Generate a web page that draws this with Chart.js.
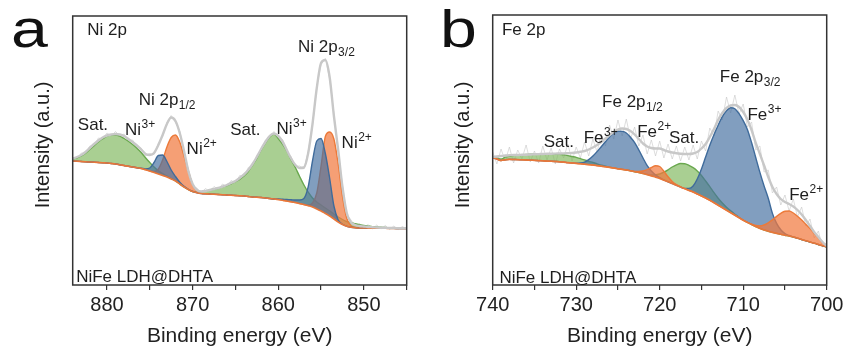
<!DOCTYPE html>
<html>
<head>
<meta charset="utf-8">
<script src="https://cdn.jsdelivr.net/npm/chart.js@4.4.1/dist/chart.umd.min.js"></script>
<style>
  html, body { margin: 0; padding: 0; background: #fff; }
  #wrap { position: relative; width: 847px; height: 351px; overflow: hidden; }
  canvas { position: absolute; top: 0; }
  #ni { left: 0; }
  #fe { left: 420px; }
</style>
</head>
<body>
<div id="wrap">
  <canvas id="ni" width="420" height="351"></canvas>
  <canvas id="fe" width="427" height="351"></canvas>
</div>
<script>
// ---------- Ni 2p region ----------
const niEnergy = [884, 883.5, 883, 882.5, 882, 881.5, 881, 880.5, 880, 879.5, 879, 878.5, 878, 877.5, 877, 876.5, 876, 875.5, 875, 874.5,
  874, 873.5, 873, 872.5, 872, 871.5, 871, 870.5, 870, 869.5, 869, 868.5, 868, 867.5, 867, 866.5, 866, 865.5, 865, 864.5,
  864, 863.5, 863, 862.5, 862, 861.5, 861, 860.5, 860, 859.5, 859, 858.5, 858, 857.5, 857, 856.5, 856, 855.5, 855, 854.5,
  854, 853.5, 853, 852.5, 852, 851.5, 851, 850.5, 850, 849.5, 849, 848.5, 848, 847.5, 847, 846.5, 846, 845.5, 845];
// Shirley background
const niBackground = [124, 123.8, 123.5, 123.2, 123, 122.8, 122.5, 122.2, 122, 121.5, 121, 120.3, 119.5, 118.8, 118, 117.2, 116.5, 115.3, 114, 112.5,
  111, 109.5, 108, 106, 104, 101, 98, 95.5, 93.5, 92.3, 91.5, 91.2, 91, 90.7, 90.5, 90.2, 90, 89.7, 89.5, 89.2,
  89, 88.5, 88, 87.7, 87.5, 87, 86.5, 86, 85.5, 84.8, 84, 83.3, 82.5, 81.5, 80.5, 79.3, 78, 76, 74, 71.5,
  69, 66, 63, 60.5, 58.7, 57.7, 57.2, 57, 57, 56.9, 56.8, 56.8, 56.7, 56.7, 56.6, 56.6, 56.5, 56.5, 56.5];
// fitted envelope
const niEnvelope = [126.5, 128, 130, 133, 137, 141, 144.5, 147.5, 149.5, 150.5, 151, 150.5, 149, 146, 143, 139.5, 135.5, 131, 130, 132,
  140, 150, 161, 167.5, 164, 152, 134, 114, 101, 95, 93.5, 94, 95, 96, 97, 98.5, 100, 102, 104, 107,
  110.5, 115, 121, 128, 136, 143, 149, 151.5, 149, 143.5, 135, 126.5, 120, 117, 117.5, 132, 161, 197, 222, 225,
  208, 169, 135, 98, 72, 62.5, 60, 59, 58.5, 58, 57.8, 57.5, 57.3, 57.2, 57, 57, 56.8, 56.7, 56.7];
// measured counts
const niRaw = [127.5, 126, 132, 131.5, 139, 140, 147, 146, 152, 149, 153.5, 149, 151, 144.5, 145, 138, 137, 129.5, 131.5, 130.5,
  141.5, 148.5, 162.5, 169.5, 162.5, 154, 132, 116, 99.5, 97, 92, 96.5, 93.5, 98.5, 95.5, 101, 98.5, 104.5, 102, 109.5,
  108.5, 117.5, 119, 130, 134.5, 145, 147.5, 153.5, 147.5, 145.5, 133, 128.5, 118.5, 119, 116, 133.5, 159, 198.5, 220.5, 226.5,
  206, 171, 133, 100, 70.5, 65, 58.5, 61.5, 57, 60.5, 56, 60, 56, 59.5, 55.5, 59, 55.5, 58.5, 56];
// component heights above the background
const niSat = [2, 3.5, 5.5, 8.5, 12.5, 16.5, 20.5, 24, 27, 28.5, 29, 28.5, 27, 25, 22.5, 19.5, 16, 12, 8.5, 5.5,
  3.2, 1.8, 1, 0.5, 0.2, 0, 0, 0, 0, 1, 1.8, 2.8, 4, 5.3, 6.3, 8, 9.5, 11.5, 14, 16.5,
  20, 25, 32, 39, 47.5, 55, 61.5, 65, 61, 56, 50, 42, 35, 27, 19.5, 13.5, 9, 7, 6, 5.5,
  5.2, 5, 5, 5, 4.8, 4.5, 4, 3.3, 2.5, 2, 1.5, 1.2, 1, 0.8, 0.6, 0.5, 0.4, 0.3, 0.3];
const niNi3 = [0, 0, 0, 0, 0, 0, 0, 0, 0, 0, 0, 0, 0, 0, 0, 0, 0.2, 0.8, 3, 10,
  18.5, 20.5, 15.5, 9, 4.5, 1.8, 0.6, 0.2, 0, 0, 0, 0, 0, 0, 0, 0, 0, 0, 0, 0,
  0, 0, 0, 0, 0, 0, 0, 0, 0.5, 1, 1.5, 2, 2.5, 3.5, 6, 19, 46, 68, 72.5, 60,
  38, 13, 2, 0.3, 0, 0, 0, 0, 0, 0, 0, 0, 0, 0, 0, 0, 0, 0, 0];
const niNi2 = [0, 0, 0, 0, 0, 0, 0, 0, 0, 0, 0, 0, 0, 0, 0, 0, 0, 0, 0, 1,
  5, 15.5, 30, 41.5, 46, 42, 31, 18.5, 7, 2, 0.5, 0, 0, 0, 0, 0, 0, 0, 0, 0,
  0, 0, 0, 0, 0, 0, 0, 0, 0, 0, 0, 0, 0, 0, 0, 0.5, 4, 16, 45, 77,
  84, 80, 58, 28, 8, 1.5, 0.3, 0, 0, 0, 0, 0, 0, 0, 0, 0, 0, 0, 0];
const niTicks = [880, 870, 860, 850];

// ---------- Fe 2p region ----------
const feEnergy = [740, 739.5, 739, 738.5, 738, 737.5, 737, 736.5, 736, 735.5, 735, 734.5, 734, 733.5, 733, 732.5, 732, 731.5, 731, 730.5,
  730, 729.5, 729, 728.5, 728, 727.5, 727, 726.5, 726, 725.5, 725, 724.5, 724, 723.5, 723, 722.5, 722, 721.5, 721, 720.5,
  720, 719.5, 719, 718.5, 718, 717.5, 717, 716.5, 716, 715.5, 715, 714.5, 714, 713.5, 713, 712.5, 712, 711.5, 711, 710.5,
  710, 709.5, 709, 708.5, 708, 707.5, 707, 706.5, 706, 705.5, 705, 704.5, 704, 703.5, 703, 702.5, 702, 701.5, 701, 700.5, 700];
const feBackground = [127, 126, 124.5, 125.3, 125.6, 125.5, 125.4, 125.2, 125, 124.8, 124.6, 124.4, 124.2, 123.9, 123.7, 123.5, 123.3, 122.9, 122.4, 122,
  121.6, 121.2, 120.8, 120.4, 120, 119.4, 118.8, 118.2, 117.6, 117, 116.3, 115.6, 115, 114.2, 113.3, 112.5, 111.5, 110.3, 109, 107.8,
  106.5, 104.8, 103.2, 101.5, 99.7, 98, 96.3, 94.6, 93, 91, 89, 87, 84.8, 82.3, 79.8, 77.3, 74.8, 72.3, 69.8, 67.3,
  64.8, 62.6, 60.5, 58.5, 56.6, 55, 53.7, 52.6, 51.6, 50.7, 49.8, 49, 48, 46.8, 45.5, 44.2, 43, 41.8, 40.5, 39.2, 38];
const feEnvelope = [128, 128.5, 129, 129.5, 129.8, 130, 130, 130.2, 130.3, 130.5, 130.7, 130.9, 131, 131.2, 131.3, 131.4, 131.5, 131.6, 131.8, 132,
  132.5, 133.2, 134, 135.5, 137.5, 140, 143, 146.5, 150, 153, 155.5, 156.5, 156, 154, 150.5, 146, 141.5, 138.5, 137, 136.5,
  136.5, 135, 133.5, 132.5, 131.8, 131.3, 131, 131, 131.5, 133, 136.5, 141, 148, 156, 165, 172, 177, 179.5, 180, 178,
  173, 165.5, 155, 142, 131, 119.5, 108, 98, 91, 86, 83, 81, 78.5, 75, 70.5, 65, 59, 53, 48, 43, 39];
const feRaw = [133, 121, 136, 124, 138, 122, 135, 126, 140, 123, 134, 122, 139, 125, 137, 121, 136, 127, 141, 124,
  138, 127, 143, 129, 146, 133, 151, 139, 160, 146, 165, 149, 166, 146, 158, 139, 150, 131, 145, 129,
  144, 127, 141, 126, 139, 124, 138, 125, 140, 126, 144, 134, 157, 149, 174, 165, 188, 172, 190, 171,
  181, 158, 163, 135, 139, 113, 115, 92, 98, 80, 90, 74, 86, 68, 78, 59, 66, 47, 54, 38, 42];
const feSat = [0.5, 1, 1.5, 2.5, 3.2, 4, 4.5, 5, 5.5, 6, 6.3, 6.7, 7, 7.2, 7.3, 7.3, 7.3, 7.2, 7, 6.5,
  6, 5.2, 4.3, 3.3, 2.5, 1.7, 1, 0.6, 0.3, 0.1, 0, 0, 0, 0, 0, 0, 0, 0.3, 1, 2.5,
  4.5, 8, 12, 16.5, 20.5, 23.5, 25, 25, 24.3, 23, 20.5, 17, 13.5, 10, 7, 4.7, 3, 1.8, 1, 0.5,
  0.2, 0, 0, 0, 0, 0, 0, 0, 0, 0, 0, 0, 0, 0, 0, 0, 0, 0, 0, 0, 0];
const feFe3 = [0, 0, 0, 0, 0, 0, 0, 0, 0, 0, 0, 0, 0, 0, 0, 0, 0, 0, 0, 0,
  0.2, 0.8, 2, 5, 9, 14, 19.5, 25, 30.5, 35, 37.5, 38, 37, 33.5, 29, 22.5, 15.5, 9, 5, 2.3,
  1, 0.3, 0, 0, 0, 0, 0.3, 2, 6, 15, 27, 41, 55, 68, 80, 91, 99.5, 105, 106.5, 104,
  99.5, 93, 82, 69, 56, 44, 33, 19, 10, 4.5, 1.5, 0.5, 0.1, 0, 0, 0, 0, 0, 0, 0, 0];
const feFe2 = [0, 0, 0, 0, 0, 0, 0, 0, 0, 0, 0, 0, 0, 0, 0, 0, 0, 0, 0, 0,
  0, 0, 0, 0, 0, 0, 0, 0, 0, 0, 0, 0, 0, 0, 0.3, 1, 2.5, 5, 8.5, 11.5,
  12, 9, 5, 2, 0.7, 0.2, 0, 0, 0, 0, 0, 0, 0, 0, 0, 0, 0, 0, 0, 0,
  0, 0, 0.3, 1, 2.5, 5, 8.5, 12.5, 17, 21, 24, 25, 24, 22, 19.5, 16.5, 13.5, 10, 6.5, 3.5, 1.5];
const feTicks = [740, 730, 720, 710, 700];

// ---------- drawing ----------
const FONT = '"Liberation Sans", Arial, Helvetica, sans-serif';
Chart.defaults.font.family = FONT;
Chart.defaults.color = '#222';

function pts(xs, ys) { return xs.map((x, k) => ({ x, y: ys[k] })); }
function onBackground(xs, bg, h) { return xs.map((x, k) => ({ x, y: bg[k] + h[k] })); }

// frame, peak annotations, axis caption and panel letter
const xpsDecor = {
  id: 'xpsDecor',
  afterDraw(chart, args, o) {
    const { ctx, chartArea: a, scales: { x, y } } = chart;
    ctx.save();
    ctx.strokeStyle = '#333';
    ctx.lineWidth = 1.5;
    ctx.strokeRect(a.left, a.top, a.right - a.left, a.bottom - a.top);

    ctx.fillStyle = '#1e1e1e';
    ctx.textAlign = 'left';
    ctx.textBaseline = 'alphabetic';
    for (const lab of o.labels) {
      const px = x.getPixelForValue(lab.e);
      const py = y.getPixelForValue(lab.i);
      ctx.font = '17px ' + FONT;
      ctx.fillText(lab.text, px, py);
      const w = ctx.measureText(lab.text).width;
      ctx.font = '12px ' + FONT;
      if (lab.sub) ctx.fillText(lab.sub, px + w + 0.5, py + 3.5);
      if (lab.sup) ctx.fillText(lab.sup, px + w + 0.5, py - 7);
    }

    ctx.save();
    ctx.translate(43.5, 145);
    ctx.rotate(-Math.PI / 2);
    ctx.font = '20px ' + FONT;
    ctx.textAlign = 'center';
    ctx.textBaseline = 'middle';
    ctx.fillText(o.yTitle, 0, 0);
    ctx.restore();

    ctx.save();
    ctx.translate(o.letterX, 47);
    ctx.scale(1.3, 1);
    ctx.font = '51px ' + FONT;
    ctx.fillStyle = '#111';
    ctx.fillText(o.letter, 0, 0);
    ctx.restore();

    ctx.restore();
  }
};

function makeChart(id, cfg) {
  const smooth = { cubicInterpolationMode: 'monotone', pointRadius: 0 };
  const lowSet = { label: cfg.names[2], data: onBackground(cfg.energy, cfg.background, cfg.low), borderColor: '#ec7a3a',
    backgroundColor: 'rgba(241,122,64,0.72)', borderWidth: 1.4, fill: 1, ...smooth };
  const highSet = { label: cfg.names[1], data: onBackground(cfg.energy, cfg.background, cfg.high), borderColor: '#3f6b9b',
    backgroundColor: 'rgba(70,112,160,0.68)', borderWidth: 1.4, fill: 1, ...smooth };
  // the first of the two is painted last (on top)
  const pair = cfg.highOnTop ? [highSet, lowSet] : [lowSet, highSet];
  return new Chart(document.getElementById(id), {
    type: 'line',
    data: {
      datasets: [
        { label: 'Envelope', data: pts(cfg.energy, cfg.envelope), borderColor: '#c8c8c8', borderWidth: 2.4, fill: false, ...smooth },
        { label: 'Background', data: pts(cfg.energy, cfg.background), borderColor: '#e8773a', borderWidth: 1.6, fill: false, ...smooth },
        ...pair,
        { label: cfg.names[0], data: onBackground(cfg.energy, cfg.background, cfg.sat), borderColor: '#6aa84f',
          backgroundColor: 'rgba(124,182,90,0.66)', borderWidth: 1.4, fill: 1, ...smooth },
        { label: 'Raw', data: pts(cfg.energy, cfg.raw), borderColor: 'rgba(198,198,198,0.6)', borderWidth: 1,
          fill: false, tension: 0, pointRadius: 0 }
      ]
    },
    options: {
      responsive: false,
      animation: false,
      events: [],
      layout: { padding: { left: 72.7, right: cfg.padRight, top: cfg.top, bottom: 0 } },
      plugins: {
        legend: { display: false },
        tooltip: { enabled: false },
        xpsDecor: { labels: cfg.labels, yTitle: 'Intensity (a.u.)', letter: cfg.letter, letterX: cfg.letterX }
      },
      scales: {
        x: {
          type: 'linear', min: cfg.min, max: cfg.max, reverse: true,
          ticks: {
            stepSize: 5, includeBounds: false, autoSkip: false, maxRotation: 0, minRotation: 0,
            padding: 3, color: '#222', font: { size: 20 },
            callback: v => (cfg.ticks.includes(v) ? String(v) : '')
          },
          grid: { display: true, drawOnChartArea: false, drawTicks: true, tickLength: 5, color: '#333', lineWidth: 1.2 },
          border: { display: false },
          title: { display: true, text: 'Binding energy (eV)', color: '#222', font: { size: 21 }, padding: { top: 0, bottom: 2 } },
          afterFit: s => { s.height = 66; }
        },
        y: { display: false, min: 0, max: cfg.yMax }
      }
    },
    plugins: [xpsDecor]
  });
}

makeChart('ni', {
  energy: niEnergy, background: niBackground, envelope: niEnvelope, raw: niRaw,
  sat: niSat, high: niNi3, low: niNi2, names: ['Sat.', 'Ni3+', 'Ni2+'], highOnTop: true,
  ticks: niTicks, min: 845, max: 884, yMax: 269, top: 16, padRight: 13.3,
  letter: 'a', letterX: 11,
  labels: [
    { text: 'Ni 2p', e: 882.3, i: 250 },
    { text: 'Ni 2p', sub: '3/2', e: 857.7, i: 233 },
    { text: 'Ni 2p', sub: '1/2', e: 876.3, i: 180 },
    { text: 'Sat.', e: 883.4, i: 155 },
    { text: 'Ni', sup: '3+', e: 877.9, i: 150 },
    { text: 'Ni', sup: '2+', e: 870.7, i: 131 },
    { text: 'Sat.', e: 865.6, i: 150 },
    { text: 'Ni', sup: '3+', e: 860.2, i: 151 },
    { text: 'Ni', sup: '2+', e: 852.6, i: 137 },
    { text: 'NiFe LDH@DHTA', e: 883.6, i: 3 }
  ]
});

makeChart('fe', {
  energy: feEnergy, background: feBackground, envelope: feEnvelope, raw: feRaw,
  sat: feSat, high: feFe3, low: feFe2, names: ['Sat.', 'Fe3+', 'Fe2+'], highOnTop: false,
  ticks: feTicks, min: 700, max: 740, yMax: 270, top: 15, padRight: 20.3,
  letter: 'b', letterX: 20,
  labels: [
    { text: 'Fe 2p', e: 738.9, i: 250 },
    { text: 'Fe 2p', sub: '3/2', e: 712.8, i: 203 },
    { text: 'Fe 2p', sub: '1/2', e: 726.9, i: 178 },
    { text: 'Sat.', e: 733.9, i: 138 },
    { text: 'Fe', sup: '3+', e: 729.1, i: 141.7 },
    { text: 'Fe', sup: '2+', e: 722.7, i: 147.7 },
    { text: 'Sat.', e: 718.9, i: 141.7 },
    { text: 'Fe', sup: '3+', e: 709.5, i: 165 },
    { text: 'Fe', sup: '2+', e: 704.5, i: 85 },
    { text: 'NiFe LDH@DHTA', e: 739.2, i: 2 }
  ]
});
</script>
</body>
</html>
